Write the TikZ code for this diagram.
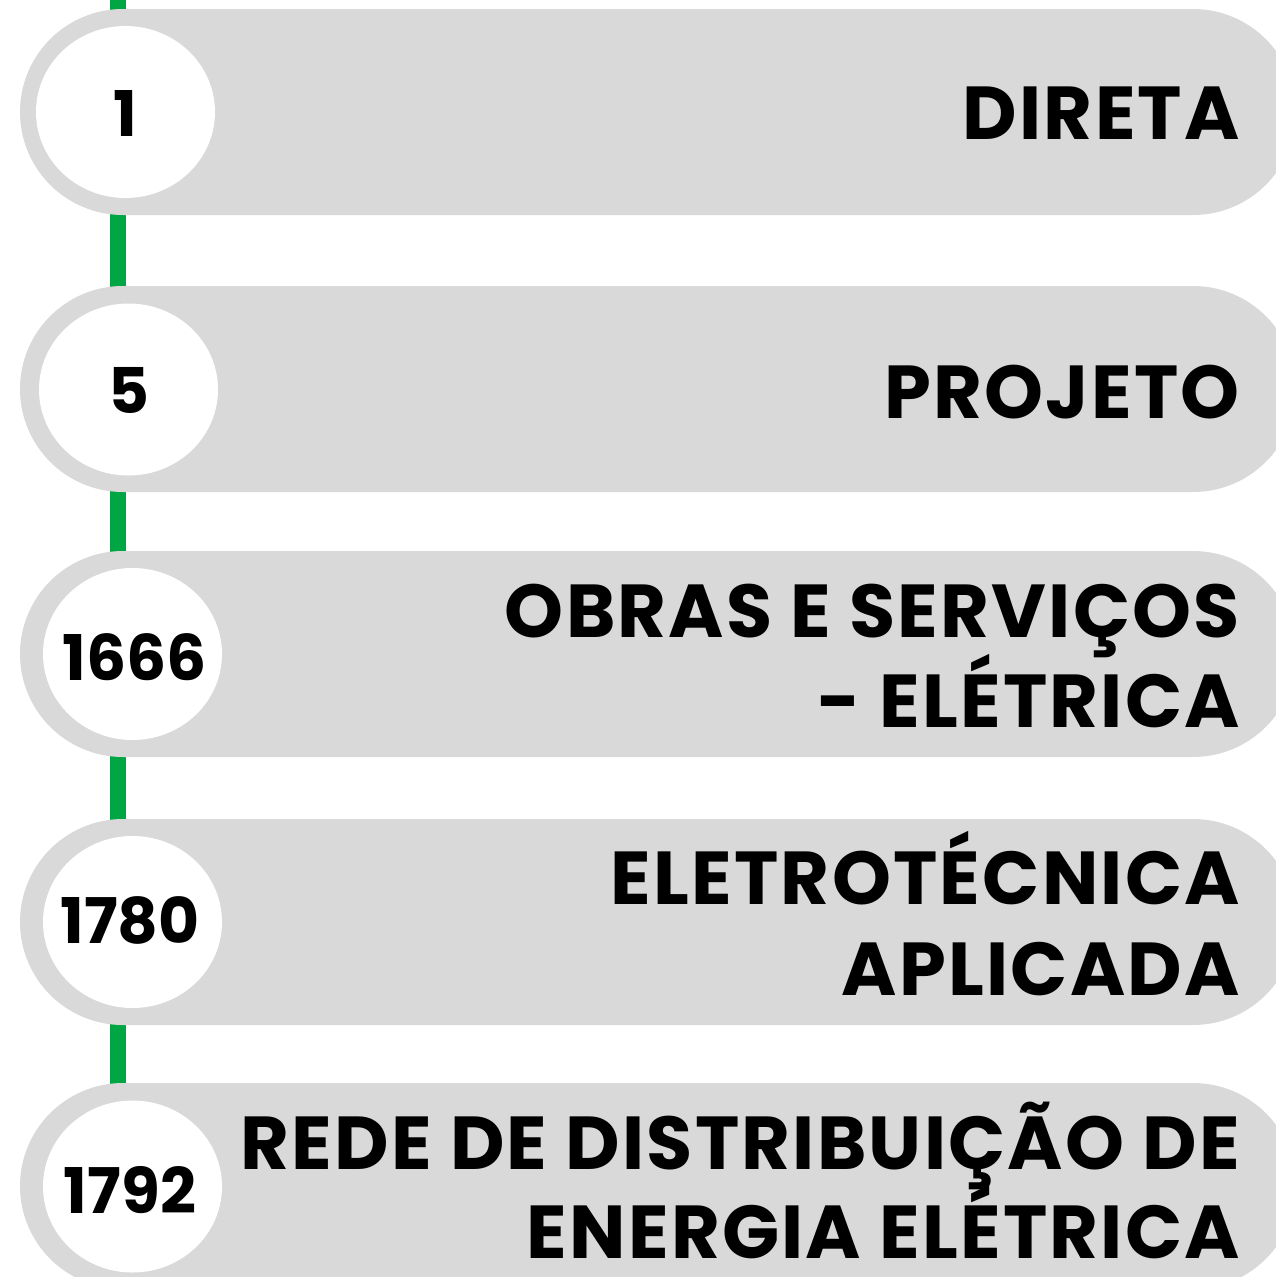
\documentclass[tikz,border=0pt]{standalone}
\usepackage{fontspec}
\setmainfont{Poppins}[BoldFont={* Bold}]
\newfontfamily\lblfont{Poppins Bold}[LetterSpace=3]
\definecolor{barg}{HTML}{D9D9D9}
\definecolor{lineg}{HTML}{00A544}
\tikzset{
  bar/.style={fill=barg, draw=none, rounded corners=103pt},
  disc/.style={ellipse, fill=white, draw=none, minimum width=179pt, minimum height=172pt, inner sep=0pt},
  num/.style={font=\bfseries\fontsize{63}{70}\selectfont, text=black, inner sep=0pt, anchor=base},
  lbl/.style={font=\lblfont\fontsize{75}{90}\selectfont, text=black, inner sep=0pt, align=right, anchor=base east},
}
\usetikzlibrary{shapes.geometric}
\begin{document}
\begin{tikzpicture}[x=1pt,y=-1pt]
\useasboundingbox (0,0) rectangle (1276,1277);
\clip (0,0) rectangle (1276,1277);
\fill[white] (0,0) rectangle (1276,1277);
\coordinate (top) at (118,0);
\coordinate (bot) at (118,1100);
\draw[lineg, line width=16pt] (top) -- (bot);
\fill[bar] (20,9) rectangle (1296,215);
\fill[bar] (20,286) rectangle (1296,492);
\fill[bar] (20,551) rectangle (1296,757);
\fill[bar] (20,819) rectangle (1296,1025);
\fill[bar] (20,1083) rectangle (1296,1289);
\node[disc] (c1) at (125.5,112) {};
\node[disc] (c2) at (128.5,389.5) {};
\node[disc] (c3) at (132.5,654) {};
\node[disc] (c4) at (132.5,922) {};
\node[disc] (c5) at (132.5,1186.5) {};
\node[num] (n1) at (125.5,136) {1};
\node[num] (n2) at (128.5,413) {5};
\node[num] (n3) at (134.5,680) {1666};
\node[num] (n4) at (130,943) {1780};
\node[num] (n5) at (130,1213) {1792};
\node[lbl] (t1) at (1240,139) {DIRETA};
\node[lbl] (t2) at (1240,418) {PROJETO};
\node[lbl] (t3) at (1240,637) {OBRAS E SERVIÇOS};
\node[lbl] (t3b) at (1240,727) {- ELÉTRICA};
\node[lbl] (t4) at (1240,904) {ELETROTÉCNICA};
\node[lbl] (t4b) at (1240,995) {APLICADA};
\node[lbl] (t5) at (1240,1169) {REDE DE DISTRIBUIÇÃO DE};
\node[lbl] (t5b) at (1240,1258) {ENERGIA ELÉTRICA};
\end{tikzpicture}
\end{document}
